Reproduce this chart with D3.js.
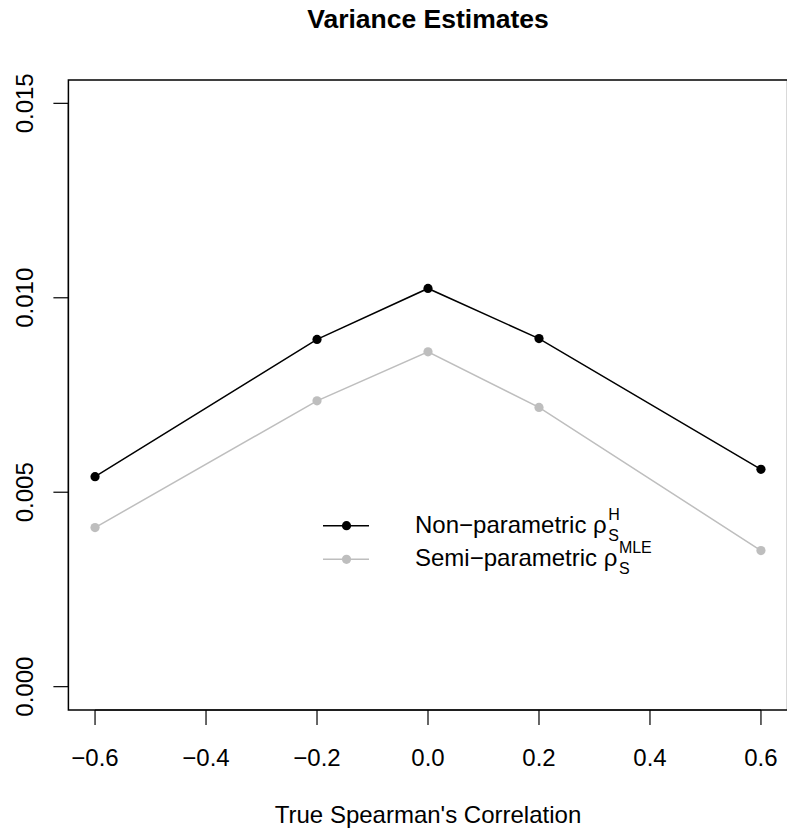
<!DOCTYPE html>
<html lang="en">
<head>
  <meta charset="UTF-8">
  <title>Variance Estimates</title>
  <script src="https://cdn.jsdelivr.net/npm/d3@7"></script>
  <style>
    body { margin: 0; background: #fff; }
    text { font-family: "Liberation Sans", Arial, Helvetica, sans-serif; }
  </style>
</head>
<body>
  <script>
    const correlations = [-0.6, -0.2, 0.0, 0.2, 0.6];
    const nonParametric = [0.00540, 0.00893, 0.01024, 0.00895, 0.00559];
    const semiParametric = [0.00409, 0.00735, 0.00861, 0.00718, 0.00350];
    const xTicks = [-0.6, -0.4, -0.2, 0.0, 0.2, 0.4, 0.6];
    const yTicks = [0, 0.005, 0.010, 0.015];

    const width = 787, height = 834;
    const plot = { left: 68.4, right: 787.6, top: 80, bottom: 710 };

    const svg = d3.select("body")
      .append("svg")
      .attr("width", width)
      .attr("height", height);

    // R style: 4% padding around data range
    const xPad = 0.04 * 1.2, yPad = 0.04 * 0.015;
    const x = d3.scaleLinear()
      .domain([-0.6 - xPad, 0.6 + xPad])
      .range([plot.left, plot.right]);
    const y = d3.scaleLinear()
      .domain([0 - yPad, 0.015 + yPad])
      .range([plot.bottom, plot.top]);

    const fmtMinus = s => s.replace("-", "\u2212");

    // x axis
    const xAxis = svg.append("g").attr("transform", `translate(0,${plot.bottom})`);
    xAxis.append("line")
      .attr("x1", x(-0.6)).attr("x2", x(0.6))
      .attr("stroke", "#000").attr("stroke-width", 1.2);
    xAxis.selectAll(".tick")
      .data(xTicks)
      .enter()
      .append("line")
      .attr("x1", d => x(d)).attr("x2", d => x(d))
      .attr("y1", 0).attr("y2", 15)
      .attr("stroke", "#000").attr("stroke-width", 1.2);
    xAxis.selectAll("text")
      .data(xTicks)
      .enter()
      .append("text")
      .attr("x", d => x(d))
      .attr("y", 56)
      .attr("text-anchor", "middle")
      .attr("font-size", "24px")
      .text(d => fmtMinus(d3.format(".1f")(d)));

    // y axis
    const yAxis = svg.append("g").attr("transform", `translate(${plot.left},0)`);
    yAxis.append("line")
      .attr("y1", y(0)).attr("y2", y(0.015))
      .attr("stroke", "#000").attr("stroke-width", 1.2);
    yAxis.selectAll(".tick")
      .data(yTicks)
      .enter()
      .append("line")
      .attr("y1", d => y(d)).attr("y2", d => y(d))
      .attr("x1", 0).attr("x2", -15)
      .attr("stroke", "#000").attr("stroke-width", 1.2);
    yAxis.selectAll("text")
      .data(yTicks)
      .enter()
      .append("text")
      .attr("transform", d => `translate(-35,${y(d)}) rotate(-90)`)
      .attr("text-anchor", "middle")
      .attr("font-size", "24px")
      .text(d => d3.format(".3f")(d));

    // box
    svg.append("rect")
      .attr("x", plot.left).attr("y", plot.top)
      .attr("width", plot.right - plot.left)
      .attr("height", plot.bottom - plot.top)
      .attr("fill", "none")
      .attr("stroke", "#000").attr("stroke-width", 1.5);

    // series
    const series = [
      { name: "Non\u2212parametric \u03c1", sup: "H", values: nonParametric, color: "#000000" },
      { name: "Semi\u2212parametric \u03c1", sup: "MLE", values: semiParametric, color: "#bebebe" }
    ];

    const line = d3.line()
      .x(d => x(d[0]))
      .y(d => y(d[1]));

    series.forEach(s => {
      const pts = correlations.map((c, i) => [c, s.values[i]]);
      svg.append("path")
        .datum(pts)
        .attr("d", line)
        .attr("fill", "none")
        .attr("stroke", s.color)
        .attr("stroke-width", 1.5);
      svg.append("g")
        .selectAll("circle")
        .data(pts)
        .enter()
        .append("circle")
        .attr("cx", d => x(d[0]))
        .attr("cy", d => y(d[1]))
        .attr("r", 4.6)
        .attr("fill", s.color);
    });

    // legend
    const legend = svg.append("g");
    const legendRows = [525.7, 559.3];
    series.forEach((s, i) => {
      const ly = legendRows[i];
      const row = legend.append("g");
      row.append("line")
        .attr("x1", 323).attr("x2", 369)
        .attr("y1", ly).attr("y2", ly)
        .attr("stroke", s.color).attr("stroke-width", 1.5);
      row.append("circle")
        .attr("cx", 346.5).attr("cy", ly).attr("r", 4.6)
        .attr("fill", s.color);
      const base = ly + 7;
      const label = row.append("text")
        .attr("x", 415).attr("y", base)
        .attr("font-size", "24px")
        .text(s.name);
      const sx = 415 + label.node().getComputedTextLength() + 1.5;
      row.append("text")
        .attr("x", sx).attr("y", base + 8)
        .attr("font-size", "16px")
        .text("S");
      row.append("text")
        .attr("x", sx).attr("y", base - 13)
        .attr("font-size", "16px")
        .text(s.sup);
    });

    // titles
    svg.append("text")
      .attr("x", (plot.left + plot.right) / 2)
      .attr("y", 28)
      .attr("text-anchor", "middle")
      .attr("font-size", "26.5px")
      .attr("font-weight", "bold")
      .text("Variance Estimates");

    svg.append("text")
      .attr("x", (plot.left + plot.right) / 2)
      .attr("y", 823)
      .attr("text-anchor", "middle")
      .attr("font-size", "24px")
      .text("True Spearman's Correlation");
  </script>
</body>
</html>
